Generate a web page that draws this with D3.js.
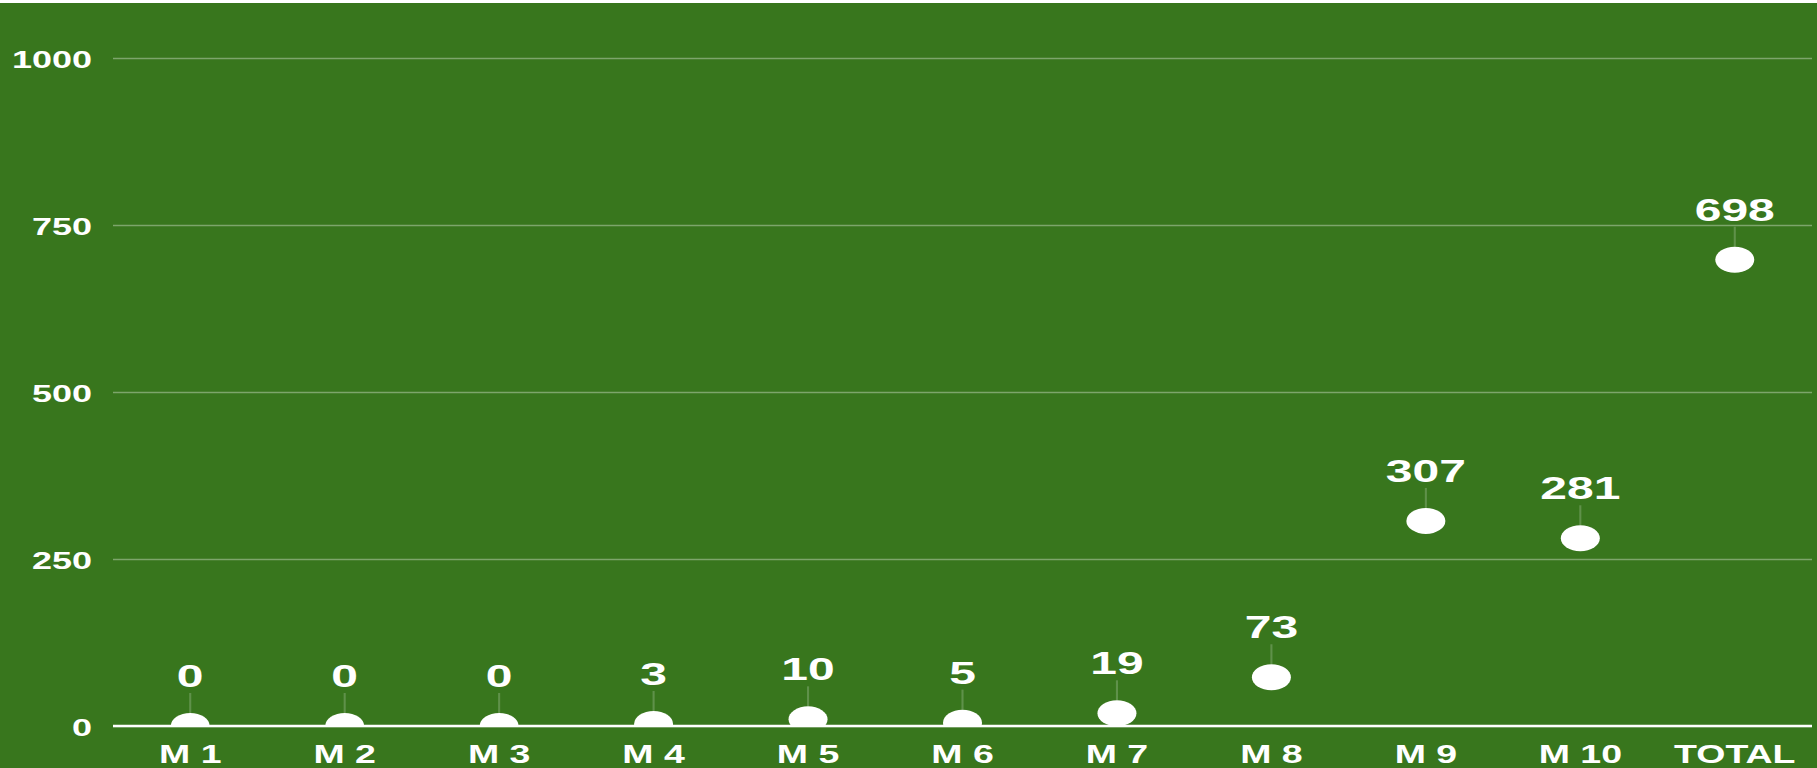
<!DOCTYPE html>
<html>
<head>
	<meta charset="utf-8">
	<script src="https://d3js.org/d3.v7.min.js"></script>
	<style>
		body { margin: 0; background: #fff; }
		svg { display: block; }
		text { font-family: "Liberation Sans", Arial, sans-serif; font-weight: bold; fill: #fff; }
	</style>
</head>
<body>
	<svg></svg>
	<script>
		var categories = ["M 1", "M 2", "M 3", "M 4", "M 5", "M 6", "M 7", "M 8", "M 9", "M 10", "TOTAL"];
		var values = [0, 0, 0, 3, 10, 5, 19, 73, 307, 281, 698];
		var yTicks = [0, 250, 500, 750, 1000];

		// the original chart is stretched sideways, so draw in a narrower box and stretch it
		var k = 1.5,
		W = 1817 / k, H = 768,
		margin = {top: 58, right: 5 / k, bottom: 42, left: 113 / k};

		var svg = d3.select("svg")
		.attr("width", 1817)
		.attr("height", H)
		.attr("viewBox", "0 0 " + W + " " + H)
		.attr("preserveAspectRatio", "none");

		svg.append("rect").attr("x", 0).attr("y", 3).attr("width", W).attr("height", H - 3).attr("fill", "#38761d");

		var x = d3.scaleBand().domain(categories).range([margin.left, W - margin.right]),
		y = d3.scaleLinear().domain([0, 1000]).range([H - margin.bottom, margin.top]);

		var yAxis = svg.append("g")
		.attr("transform", "translate(" + margin.left + ",0)")
		.call(d3.axisLeft(y).tickValues(yTicks).tickFormat(d3.format("d"))
			.tickSize(-(W - margin.left - margin.right)).tickPadding(14));
		yAxis.select(".domain").remove();
		yAxis.selectAll("line").attr("stroke", "rgba(255,255,255,0.35)").attr("stroke-width", 1.6);
		yAxis.selectAll("text").attr("font-size", 24).attr("fill", "#fff").attr("font-family", null).attr("dy", "0.4em");

		svg.append("line")
		.attr("x1", margin.left).attr("x2", W - margin.right)
		.attr("y1", y(0)).attr("y2", y(0))
		.attr("stroke", "#fff").attr("stroke-width", 2.5);

		var xAxis = svg.append("g")
		.attr("transform", "translate(0," + y(0) + ")")
		.call(d3.axisBottom(x).tickSize(0).tickPadding(19));
		xAxis.select(".domain").remove();
		xAxis.selectAll("text").attr("font-size", 25).attr("fill", "#fff").attr("font-family", null);

		svg.append("clipPath").attr("id", "plot")
		.append("rect").attr("x", 0).attr("y", 0).attr("width", W).attr("height", y(0));

		var pts = svg.selectAll(".pt")
		.data(values)
		.enter().append("g").attr("class", "pt");

		pts.append("line")
		.attr("x1", function(d, i) { return x(categories[i]) + x.bandwidth() / 2; })
		.attr("x2", function(d, i) { return x(categories[i]) + x.bandwidth() / 2; })
		.attr("y1", function(d) { return y(d) - 33; })
		.attr("y2", function(d) { return y(d) - 13; })
		.attr("stroke", "rgba(255,255,255,0.2)")
		.attr("stroke-width", 1.4);

		pts.append("circle")
		.attr("clip-path", "url(#plot)")
		.attr("cx", function(d, i) { return x(categories[i]) + x.bandwidth() / 2; })
		.attr("cy", function(d) { return y(d); })
		.attr("r", 13)
		.attr("fill", "#fff");

		pts.append("text")
		.attr("x", function(d, i) { return x(categories[i]) + x.bandwidth() / 2; })
		.attr("y", function(d) { return y(d) - 39; })
		.attr("text-anchor", "middle")
		.attr("font-size", 32)
		.text(function(d) { return d; });
	</script>
</body>
</html>
